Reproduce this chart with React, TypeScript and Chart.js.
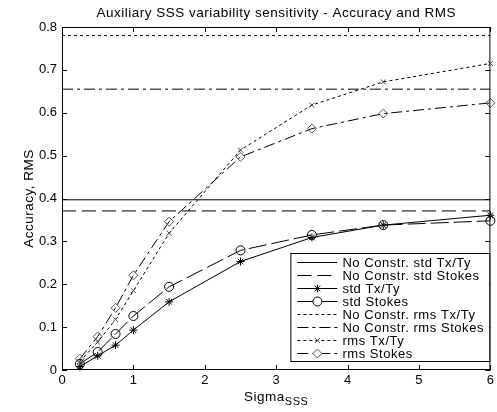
import React, { useEffect, useRef } from 'react';
import { Chart, registerables } from 'chart.js';
import { drawPoint } from 'chart.js/helpers';

Chart.register(...registerables);

// ---- data ----
const sigma = [0.25, 0.5, 0.75, 1, 1.5, 2.5, 3.5, 4.5, 6];
const stdTxTy = [0.008, 0.033, 0.058, 0.093, 0.159, 0.253, 0.309, 0.338, 0.361];
const stdStokes = [0.014, 0.042, 0.084, 0.126, 0.194, 0.279, 0.315, 0.338, 0.348];
const rmsTxTy = [0.02, 0.065, 0.118, 0.185, 0.319, 0.513, 0.618, 0.672, 0.715];
const rmsStokes = [0.026, 0.078, 0.145, 0.221, 0.346, 0.497, 0.563, 0.598, 0.623];
const refSpan = [0, 6];
const noConstrStdTxTy = 0.397;
const noConstrStdStokes = 0.371;
const noConstrRmsTxTy = 0.78;
const noConstrRmsStokes = 0.655;
const seriesLabels = [
  'No Constr. std Tx/Ty',
  'No Constr. std Stokes',
  'std Tx/Ty',
  'std Stokes',
  'No Constr. rms Tx/Ty',
  'No Constr. rms Stokes',
  'rms Tx/Ty',
  'rms Stokes',
];
const xTicks = [0, 1, 2, 3, 4, 5, 6];
const yTicks = [0, 0.1, 0.2, 0.3, 0.4, 0.5, 0.6, 0.7, 0.8];
const titleText = 'Auxiliary SSS variability sensitivity - Accuracy and RMS';
const yTitle = 'Accuracy, RMS';
const xTitleMain = 'Sigma';
const xTitleSub = 'SSS';

const FONT = '"Liberation Sans", Arial, Helvetica, sans-serif';

const pts = (ys: number[]) => sigma.map((x, i) => ({ x, y: ys[i] }));
const flat = (v: number) => refSpan.map((x) => ({ x, y: v }));

const decorPlugin = {
  id: 'decor',
  afterDatasetsDraw(chart: any) {
    const { ctx, chartArea: a, scales } = chart;
    const xs = scales.x;
    const ys = scales.y;
    ctx.save();
    ctx.strokeStyle = '#000';
    ctx.fillStyle = '#000';
    ctx.lineWidth = 1;
    ctx.setLineDash([]);
    // box
    ctx.strokeRect(a.left + 0.5, a.top + 0.5, a.right - a.left - 1, a.bottom - a.top - 1);
    // inward ticks
    ctx.beginPath();
    xTicks.forEach((v) => {
      const px = Math.round(xs.getPixelForValue(v)) + 0.5;
      ctx.moveTo(px, a.bottom);
      ctx.lineTo(px, a.bottom - 5);
      ctx.moveTo(px, a.top);
      ctx.lineTo(px, a.top + 5);
    });
    yTicks.forEach((v) => {
      const py = Math.round(ys.getPixelForValue(v)) + 0.5;
      ctx.moveTo(a.left, py);
      ctx.lineTo(a.left + 5, py);
      ctx.moveTo(a.right, py);
      ctx.lineTo(a.right - 5, py);
    });
    ctx.stroke();

    // legend
    const lw = 199;
    const lh = 108;
    const lx = a.right - 1 - lw;
    const ly = a.bottom - 9 - lh;
    ctx.fillStyle = '#fff';
    ctx.fillRect(lx, ly, lw, lh);
    ctx.strokeStyle = '#000';
    ctx.strokeRect(lx + 0.5, ly + 0.5, lw, lh);
    ctx.font = '13px ' + FONT;
    (ctx as any).letterSpacing = '0.55px';
    ctx.textAlign = 'left';
    ctx.textBaseline = 'middle';
    chart.data.datasets.forEach((ds: any, i: number) => {
      const cy = Math.round(ly + 8.5 + i * 13) + 0.5;
      ctx.strokeStyle = ds.borderColor;
      ctx.lineWidth = 1;
      ctx.setLineDash(ds.borderDash || []);
      ctx.beginPath();
      ctx.moveTo(lx + 7, cy);
      ctx.lineTo(lx + 47, cy);
      ctx.stroke();
      ctx.setLineDash([]);
      if (ds.pointRadius > 0) {
        ctx.strokeStyle = ds.pointBorderColor;
        ctx.fillStyle = '#fff';
        drawPoint(ctx, { pointStyle: ds.pointStyle, radius: ds.pointRadius, rotation: 0, borderWidth: 1 } as any, lx + 27, cy);
      }
      ctx.fillStyle = '#000';
      ctx.fillText(ds.label, lx + 52, cy + 0.5);
    });

    // title
    ctx.fillStyle = '#000';
    ctx.textAlign = 'center';
    ctx.textBaseline = 'middle';
    ctx.font = '13.5px ' + FONT;
    (ctx as any).letterSpacing = '0.5px';
    ctx.fillText(titleText, (a.left + a.right) / 2, 13);

    // y title
    ctx.save();
    ctx.translate(29, (a.top + a.bottom) / 2);
    ctx.rotate(-Math.PI / 2);
    ctx.font = '13.5px ' + FONT;
    ctx.fillText(yTitle, 0, 0);
    ctx.restore();

    // x title with subscript
    ctx.font = '13.5px ' + FONT;
    ctx.textAlign = 'left';
    const wMain = ctx.measureText(xTitleMain).width;
    ctx.font = '11px ' + FONT;
    const wSub = ctx.measureText(xTitleSub).width;
    const startX = (a.left + a.right) / 2 - (wMain + wSub) / 2;
    ctx.font = '13.5px ' + FONT;
    ctx.fillText(xTitleMain, startX, 397);
    ctx.font = '11px ' + FONT;
    ctx.fillText(xTitleSub, startX + wMain, 402);
    ctx.restore();
  },
};

export default function App() {
  const ref = useRef<HTMLCanvasElement | null>(null);
  useEffect(() => {
    document.body.style.margin = '0';
    const canvas = ref.current;
    if (!canvas) return;
    const base = {
      borderColor: '#000',
      borderWidth: 1,
      pointBorderColor: '#000',
      pointBackgroundColor: 'rgba(0,0,0,0)',
      pointBorderWidth: 1,
      pointHoverRadius: 0,
      tension: 0,
      fill: false,
      clip: false as any,
    };
    const chart = new Chart(canvas, {
      type: 'line',
      data: {
        datasets: [
          { ...base, label: seriesLabels[0], data: flat(noConstrStdTxTy), borderDash: [], pointRadius: 0, clip: 0 as any },
          { ...base, label: seriesLabels[1], data: flat(noConstrStdStokes), borderDash: [14, 6], pointRadius: 0, clip: 0 as any },
          { ...base, label: seriesLabels[2], data: pts(stdTxTy), borderDash: [], pointStyle: 'star', pointRadius: 4 },
          { ...base, label: seriesLabels[3], data: pts(stdStokes), borderDash: [18, 5], pointStyle: 'circle', pointRadius: 4.5 },
          { ...base, label: seriesLabels[4], data: flat(noConstrRmsTxTy), borderDash: [3, 3], pointRadius: 0, clip: 0 as any },
          { ...base, label: seriesLabels[5], data: flat(noConstrRmsStokes), borderDash: [11, 4, 3, 4], pointRadius: 0, clip: 0 as any },
          { ...base, label: seriesLabels[6], data: pts(rmsTxTy), borderDash: [3, 3], pointStyle: 'crossRot', pointRadius: 3.5, pointBorderColor: '#444' },
          { ...base, label: seriesLabels[7], data: pts(rmsStokes), borderDash: [11, 4, 3, 4], pointStyle: 'rectRot', pointRadius: 4.5, pointBorderColor: '#555' },
        ],
      },
      options: {
        responsive: false,
        animation: false,
        events: [],
        layout: { padding: { top: 27, right: 4, left: 0, bottom: 0 } },
        plugins: { legend: { display: false }, tooltip: { enabled: false }, title: { display: false } },
        scales: {
          x: {
            type: 'linear',
            min: 0,
            max: 6,
            afterBuildTicks: (s: any) => { s.ticks = xTicks.map((v) => ({ value: v })); },
            afterFit: (s: any) => { s.height = 42; },
            grid: { display: false, drawTicks: false },
            border: { display: false },
            ticks: { color: '#000', padding: 3, font: { size: 13, family: FONT }, maxRotation: 0, callback: (v: any) => String(v) },
          },
          y: {
            type: 'linear',
            min: 0,
            max: 0.8,
            afterBuildTicks: (s: any) => { s.ticks = yTicks.map((v) => ({ value: v })); },
            afterFit: (s: any) => { s.width = 62; },
            grid: { display: false, drawTicks: false },
            border: { display: false },
            ticks: { color: '#000', padding: 5, font: { size: 13, family: FONT }, callback: (v: any) => String(Math.round(v * 10) / 10) },
          },
        },
      },
      plugins: [decorPlugin],
    });
    return () => chart.destroy();
  }, []);
  return (
    <div style={{ width: 497, height: 412, background: '#fff' }}>
      <canvas ref={ref} width={497} height={412} style={{ display: 'block' }} />
    </div>
  );
}
